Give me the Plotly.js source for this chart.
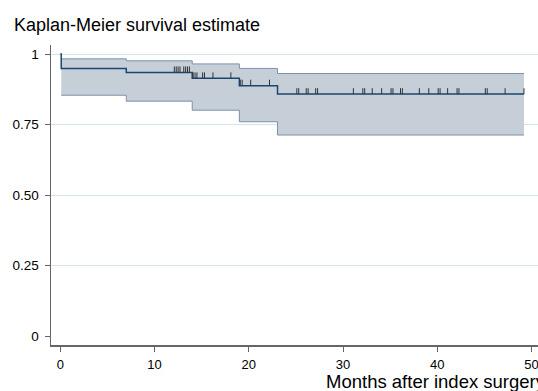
<!DOCTYPE html>
<html>
<head>
<meta charset="utf-8">
<script src="https://cdn.plot.ly/plotly-3.0.1.min.js"></script>
<style>html,body{margin:0;padding:0;background:#fff}#chart{width:538px;height:391px}</style>
</head>
<body>
<div id="chart"></div>
<script>
// Step times (months) and Kaplan-Meier estimates
var stepTimes = [0, 0.1, 7.0, 14.0, 19.0, 23.05];
var survival  = [1.0, 0.949, 0.935, 0.914, 0.888, 0.858];
var upperCI   = [null, 0.983, 0.976, 0.965, 0.949, 0.931];
var lowerCI   = [null, 0.854, 0.833, 0.801, 0.760, 0.713];
var endTime = 49.2;
// Censoring times
var censorTimes = [12.1, 12.3, 12.5, 12.7, 13.1, 13.3, 13.5, 13.7, 14.1, 14.3, 14.5,
  15.1, 15.3, 16.2, 18.1, 19.1, 19.3, 20.2, 22.2, 25.1, 25.3, 26.1, 26.3, 27.1, 27.3,
  31.1, 32.1, 32.3, 33.1, 34.1, 35.1, 35.3, 36.1, 36.3, 38.1, 39.1, 40.1, 40.3, 41.1,
  42.1, 42.3, 45.1, 45.3, 47.2, 49.2];
var xTicks = [0, 10, 20, 30, 40, 50];
var yTicks = [0, 0.25, 0.5, 0.75, 1];
var yTickLabels = ['0', '0.25', '0.50', '0.75', '1'];

function sAt(t) {
  var s = survival[0];
  for (var i = 0; i < stepTimes.length; i++) { if (stepTimes[i] <= t) s = survival[i]; }
  return s;
}

var kmX = stepTimes.concat([endTime]);
var kmY = survival.concat([survival[survival.length - 1]]);
var ciX = stepTimes.slice(1).concat([endTime]);
var upY = upperCI.slice(1).concat([upperCI[upperCI.length - 1]]);
var loY = lowerCI.slice(1).concat([lowerCI[lowerCI.length - 1]]);

var cx = [], cy = [];
censorTimes.forEach(function (t) {
  var s = sAt(t);
  cx.push(t, t, null);
  cy.push(s, s + 0.021, null);
});

var font = 'Liberation Sans, Arial, Helvetica, sans-serif';
var traces = [
  {x: ciX, y: loY, mode: 'lines', line: {shape: 'hv', color: 'rgb(125,145,170)', width: 1}, hoverinfo: 'skip', showlegend: false},
  {x: ciX, y: upY, mode: 'lines', fill: 'tonexty', fillcolor: 'rgb(198,206,216)', line: {shape: 'hv', color: 'rgb(125,145,170)', width: 1}, hoverinfo: 'skip', showlegend: false},
  {x: kmX, y: kmY, mode: 'lines', line: {shape: 'hv', color: '#1a476f', width: 1.5}, showlegend: false},
  {x: cx, y: cy, mode: 'lines', line: {color: '#333333', width: 1}, showlegend: false, connectgaps: false}
];

var layout = {
  width: 538, height: 391,
  margin: {l: 50.7, r: 0, t: 45, b: 46.3, pad: 0},
  paper_bgcolor: '#ffffff', plot_bgcolor: '#ffffff',
  font: {family: font, color: '#000', size: 13},
  showlegend: false,
  xaxis: {
    range: [-0.986, 50.69], tickvals: xTicks, ticktext: xTicks.map(String),
    showgrid: false, zeroline: false, showline: true, linecolor: '#666', linewidth: 1.5,
    ticks: 'outside', ticklen: 5, tickcolor: '#666', tickwidth: 1,
    ticklabeloverflow: 'allow', ticklabelstandoff: 2,
    tickfont: {size: 13, family: font, color: '#000'}
  },
  yaxis: {
    range: [-0.031, 1.032], tickvals: yTicks, ticktext: yTickLabels,
    showgrid: true, gridcolor: 'rgb(214,228,233)', gridwidth: 1,
    zeroline: true, zerolinecolor: '#ffffff', zerolinewidth: 1,
    showline: true, linecolor: '#666', linewidth: 1.5,
    ticks: 'outside', ticklen: 5, tickcolor: '#666', tickwidth: 1,
    ticklabelstandoff: 3,
    tickfont: {size: 13.5, family: font, color: '#000'}
  },
  annotations: [
    {text: 'Kaplan-Meier survival estimate', xref: 'paper', yref: 'paper', x: (12.0 - 50.7) / 487.3, y: 1.066,
     xanchor: 'left', yanchor: 'middle', showarrow: false, font: {size: 18, family: font, color: '#000'}},
    {text: 'Months after index surgery', xref: 'paper', yref: 'paper', x: (323.6 - 50.7) / 487.3, y: -0.120,
     xanchor: 'left', yanchor: 'middle', showarrow: false, font: {size: 18.5, family: font, color: '#000'}}
  ]
};

Plotly.newPlot('chart', traces, layout, {displayModeBar: false, staticPlot: true});
</script>
</body>
</html>
